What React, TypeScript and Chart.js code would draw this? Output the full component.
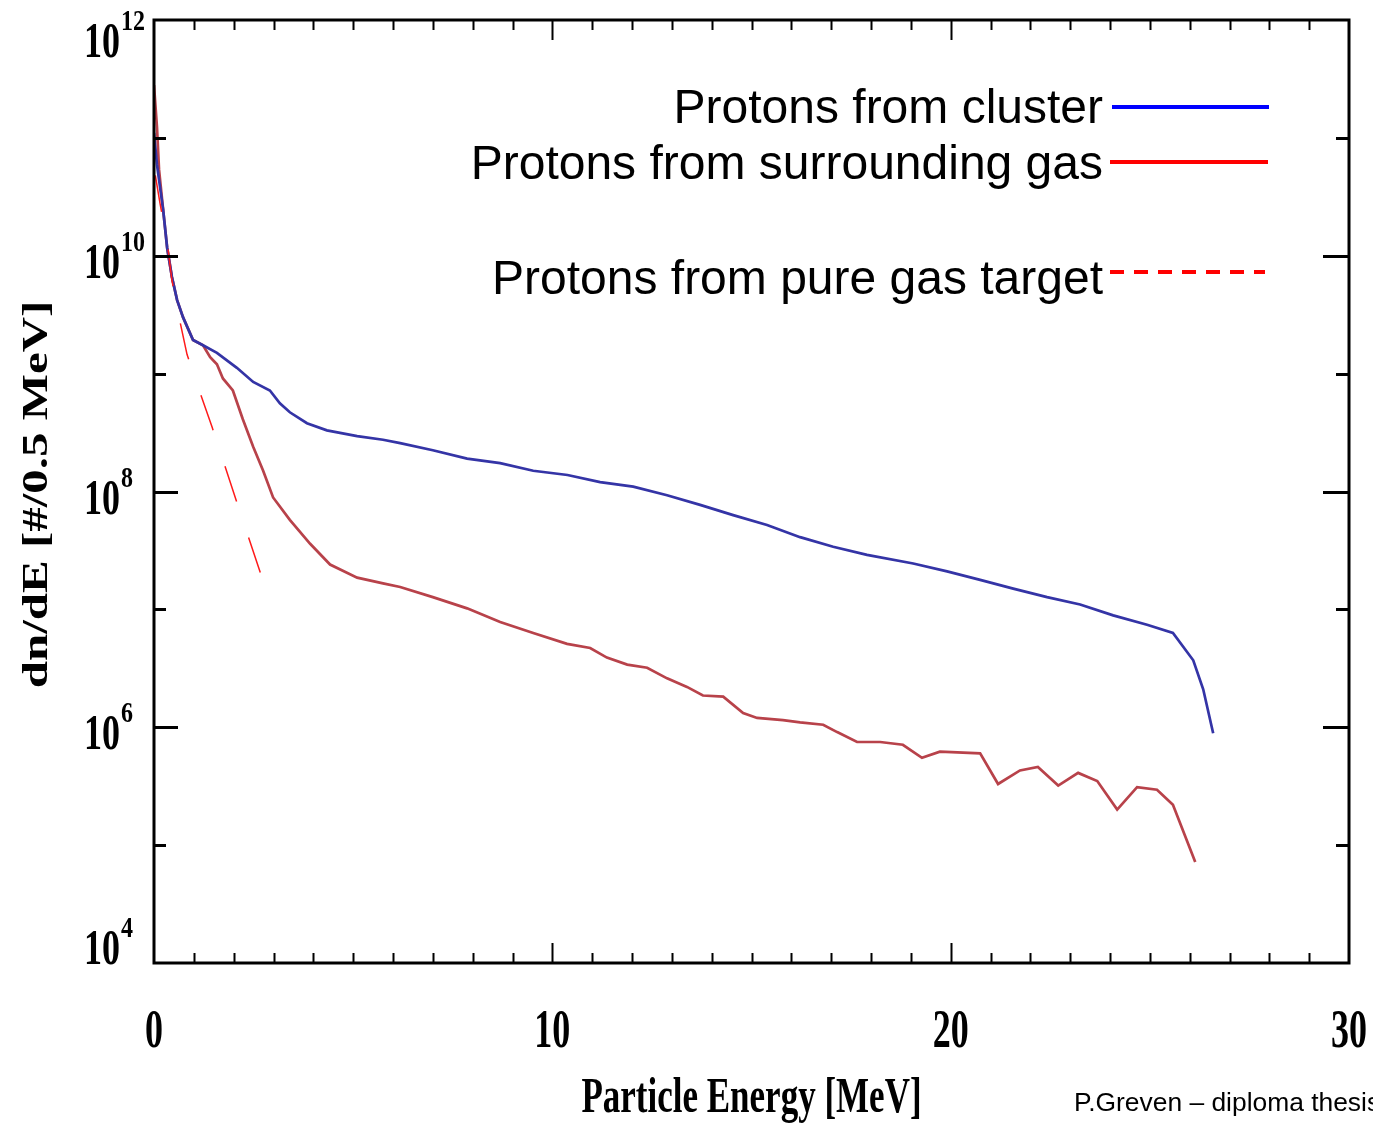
import { useEffect, useRef } from 'react';
import { Chart, registerables } from 'chart.js';

Chart.register(...registerables);

// ---- data ----
const energyCluster = [
  0, 0.075, 0.23, 0.33, 0.45, 0.58, 0.73, 0.98, 1.23, 1.58,
  2.08, 2.49, 2.91, 3.16, 3.41, 3.84, 4.34, 5.1, 5.75, 6.18,
  7.0, 7.86, 8.69, 9.52, 10.38, 11.2, 12.03, 12.88, 13.71, 14.54,
  15.39, 16.22, 17.05, 17.9, 19.06, 19.91, 20.74, 21.57, 22.42, 23.25,
  24.08, 24.93, 25.58, 26.09, 26.34, 26.59,
];
const protonsCluster = [
  1.1e11, 5.9e10, 2.45e10, 1.17e10, 6.6e9, 4.2e9, 3.0e9, 1.93e9, 1.74e9, 1.5e9,
  1.12e9, 8.5e8, 7.2e8, 5.6e8, 4.7e8, 3.8e8, 3.3e8, 2.95e8, 2.75e8, 2.57e8,
  2.24e8, 1.9e8, 1.74e8, 1.5e8, 1.38e8, 1.2e8, 1.1e8, 9.3e7, 7.7e7, 6.3e7,
  5.2e7, 4.1e7, 3.4e7, 2.9e7, 2.45e7, 2.1e7, 1.78e7, 1.5e7, 1.27e7, 1.1e7,
  8.9e6, 7.4e6, 6.3e6, 3.7e6, 2.1e6, 8.9e5,
];

const energySurround = [
  0, 0.075, 0.126, 0.23, 0.33, 0.45, 0.58, 0.73, 0.98, 1.23,
  1.41, 1.58, 1.73, 1.98, 2.23, 2.49, 2.74, 2.99, 3.41, 3.92,
  4.42, 5.1, 5.75, 6.18, 7.0, 7.86, 8.69, 9.52, 10.37, 10.95,
  11.37, 11.88, 12.38, 12.88, 13.38, 13.78, 14.29, 14.79, 15.14, 15.79,
  16.22, 16.8, 17.15, 17.65, 18.23, 18.8, 19.28, 19.73, 20.74, 21.19,
  21.74, 22.19, 22.7, 23.2, 23.68, 24.18, 24.68, 25.18, 25.58, 26.14,
];
const protonsSurround = [
  2.8e11, 1.23e11, 5.4e10, 2.45e10, 1.17e10, 6.6e9, 4.2e9, 3.0e9, 1.93e9, 1.74e9,
  1.38e9, 1.2e9, 9.1e8, 7.2e8, 4.1e8, 2.4e8, 1.5e8, 8.9e7, 5.75e7, 3.6e7,
  2.4e7, 1.86e7, 1.66e7, 1.55e7, 1.27e7, 1.02e7, 7.8e6, 6.3e6, 5.1e6, 4.7e6,
  3.9e6, 3.4e6, 3.2e6, 2.6e6, 2.2e6, 1.86e6, 1.82e6, 1.32e6, 1.2e6, 1.15e6,
  1.1e6, 1.05e6, 9.1e5, 7.5e5, 7.5e5, 7.1e5, 5.5e5, 6.2e5, 6.0e5, 3.3e5,
  4.3e5, 4.6e5, 3.2e5, 4.1e5, 3.5e5, 2.0e5, 3.1e5, 2.95e5, 2.2e5, 7.2e4,
];

const energyPure = [0, 0.15, 0.33, 0.45, 0.63, 0.83, 1.155, 1.46, 2.08, 2.69];
const protonsPure = [5.6e10, 2.8e10, 1.3e10, 6.2e9, 3.0e9, 1.45e9, 6.9e8, 3.5e8, 8.1e7, 1.95e7];

const seriesLabels = [
  'Protons from cluster',
  'Protons from surrounding gas',
  'Protons from pure gas target',
];

const xTickLabels = [0, 10, 20, 30];
const yTickExponents = [4, 6, 8, 10, 12];
const xTitle = 'Particle Energy [MeV]';
const yTitle = 'dn/dE [#/0.5 MeV]';
const footer = 'P.Greven \u2013 diploma thesis';

const SERIF = '"Liberation Serif", "Times New Roman", serif';
const SANS = '"Liberation Sans", Arial, sans-serif';

function pts(xs: number[], ys: number[]) {
  return xs.map((x, i) => ({ x, y: ys[i] }));
}

// draw text whose ink is vertically centred on cy, stretched by sx/sy
function inkText(
  ctx: CanvasRenderingContext2D,
  text: string,
  x: number,
  cy: number,
  font: string,
  sx: number,
  sy: number,
  align: CanvasTextAlign,
  rotate = 0,
) {
  ctx.save();
  ctx.font = font;
  ctx.textAlign = align;
  ctx.textBaseline = 'alphabetic';
  const m = ctx.measureText(text);
  const a = m.actualBoundingBoxAscent;
  const d = m.actualBoundingBoxDescent;
  ctx.translate(x, cy);
  if (rotate) ctx.rotate(rotate);
  ctx.scale(sx, sy);
  ctx.fillText(text, 0, (a - d) / 2);
  ctx.restore();
}

const framePlugin = {
  id: 'framePlugin',
  afterDatasetsDraw(chart: any) {
    const { ctx, chartArea: a, scales } = chart;
    const xs = scales.x;
    const ys = scales.y;
    ctx.save();
    ctx.fillStyle = '#000';
    ctx.strokeStyle = '#000';

    // x ticks (inward, top and bottom)
    ctx.lineWidth = 2;
    for (let v = 1; v < 30; v++) {
      const px = Math.round(xs.getPixelForValue(v)) + 0.5;
      const len = v % 10 === 0 ? 20 : 10;
      ctx.beginPath();
      ctx.moveTo(px, a.bottom);
      ctx.lineTo(px, a.bottom - len);
      ctx.moveTo(px, a.top);
      ctx.lineTo(px, a.top + len);
      ctx.stroke();
    }
    // y ticks (inward, left and right)
    ctx.lineWidth = 3;
    for (let e = 5; e <= 11; e++) {
      const py = Math.round(ys.getPixelForValue(Math.pow(10, e))) + 0.5;
      const major = e % 2 === 0;
      ctx.beginPath();
      ctx.moveTo(a.left, py);
      ctx.lineTo(a.left + (major ? 24 : 12), py);
      ctx.moveTo(a.right, py);
      ctx.lineTo(a.right - (major ? 26 : 13), py);
      ctx.stroke();
    }
    // frame
    ctx.lineWidth = 3;
    ctx.strokeRect(a.left, a.top, a.right - a.left, a.bottom - a.top);

    // x tick labels
    for (const v of xTickLabels) {
      const px = xs.getPixelForValue(v);
      inkText(ctx, String(v), px, 1028, `bold 36px ${SERIF}`, 1, 1.55, 'center');
    }
    // y tick labels 10^e
    for (const e of yTickExponents) {
      const py = ys.getPixelForValue(Math.pow(10, e));
      let dy = 0;
      if (e === 12) dy = 15;
      if (e === 4) dy = -21;
      inkText(ctx, '10', 120, py + 5 + dy, `bold 36px ${SERIF}`, 1, 1.42, 'right');
      inkText(ctx, String(e), 121, py - 14 + dy, `bold 24px ${SERIF}`, 1, 1.2, 'left');
    }
    // axis titles
    inkText(ctx, xTitle, (a.left + a.right) / 2, 1100, `bold 35px ${SERIF}`, 1, 1.45, 'center');
    inkText(ctx, yTitle, 37, (a.top + a.bottom) / 2 + 3, `bold 36px ${SERIF}`, 1.36, 1, 'center', -Math.PI / 2);

    // legend
    const legendRows = [
      { label: seriesLabels[0], y: 107, color: '#0000ff', dash: [] as number[], x0: 1112, x1: 1269, ty: 106 },
      { label: seriesLabels[1], y: 162, color: '#ff0000', dash: [] as number[], x0: 1110, x1: 1268, ty: 162 },
      { label: seriesLabels[2], y: 272, color: '#ff0000', dash: [14, 10], x0: 1110, x1: 1265, ty: 277 },
    ];
    ctx.fillStyle = '#000';
    for (const r of legendRows) {
      ctx.font = `48px ${SANS}`;
      ctx.textAlign = 'right';
      ctx.textBaseline = 'alphabetic';
      const cap = ctx.measureText('P').actualBoundingBoxAscent;
      ctx.fillText(r.label, 1103, r.ty + cap / 2);
      ctx.save();
      ctx.strokeStyle = r.color;
      ctx.lineWidth = 4;
      ctx.setLineDash(r.dash);
      ctx.beginPath();
      ctx.moveTo(r.x0, r.y);
      ctx.lineTo(r.x1, r.y);
      ctx.stroke();
      ctx.restore();
    }

    // footer
    ctx.font = `26.4px ${SANS}`;
    ctx.textAlign = 'left';
    ctx.textBaseline = 'alphabetic';
    ctx.fillText(footer, 1074, 1111);
    ctx.restore();
  },
};

export default function App() {
  const ref = useRef<HTMLCanvasElement | null>(null);

  useEffect(() => {
    if (!ref.current) return;
    const chart = new Chart(ref.current, {
      type: 'line',
      data: {
        datasets: [
          {
            label: seriesLabels[2],
            data: pts(energyPure, protonsPure),
            borderColor: '#ff1a1a',
            borderWidth: 1.5,
            borderDash: [37, 38],
            borderDashOffset: -8,
            pointRadius: 0,
            tension: 0,
            fill: false,
          },
          {
            label: seriesLabels[0],
            data: pts(energyCluster, protonsCluster),
            borderColor: '#3434a6',
            borderWidth: 2.7,
            pointRadius: 0,
            tension: 0,
            fill: false,
          },
          {
            label: seriesLabels[1],
            data: pts(energySurround, protonsSurround),
            borderColor: '#b8424a',
            borderWidth: 2.7,
            pointRadius: 0,
            tension: 0,
            fill: false,
          },
        ],
      },
      options: {
        responsive: false,
        animation: false,
        parsing: true,
        layout: { padding: { left: 154, right: 24, top: 20, bottom: 161 } },
        plugins: {
          legend: { display: false },
          tooltip: { enabled: false },
          title: { display: false },
        },
        scales: {
          x: { type: 'linear', min: 0, max: 30, display: false },
          y: { type: 'logarithmic', min: 1e4, max: 1e12, display: false },
        },
      },
      plugins: [framePlugin],
    });
    return () => chart.destroy();
  }, []);

  return (
    <div style={{ position: 'absolute', left: 0, top: 0, width: 1373, height: 1124, overflow: 'hidden', background: '#fff' }}>
      <canvas ref={ref} width={1373} height={1124} style={{ display: 'block' }} />
    </div>
  );
}
